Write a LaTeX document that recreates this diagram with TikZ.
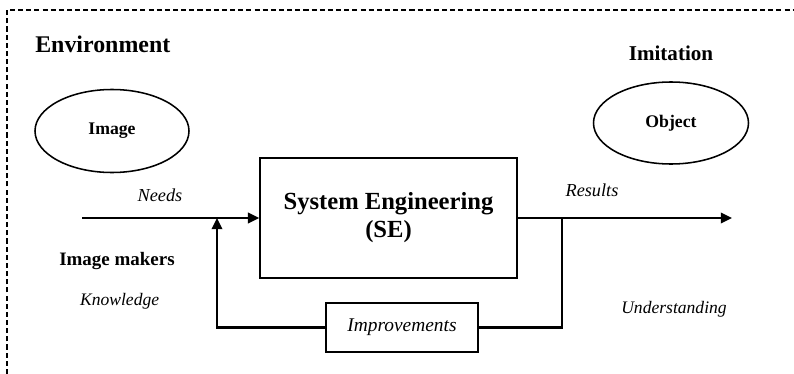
\documentclass[tikz,border=0pt]{standalone}
\usepackage{fontspec}
\setmainfont{Liberation Serif}
\usetikzlibrary{shapes.geometric,arrows.meta}

\begin{document}
\begin{tikzpicture}[
    head/.style={font=\bfseries\fontsize{17}{20}\selectfont, inner sep=0pt},
    lbl/.style={font=\itshape\fontsize{13}{15}\selectfont, inner sep=0pt},
    oval/.style={ellipse, draw, line width=1.1pt,
                 font=\bfseries\fontsize{12.6}{15}\selectfont},
    blk/.style={draw, line width=1.1pt, align=center},
    flow/.style={line width=1.5pt},
    tip/.style={flow, -{Triangle[length=8pt,width=7.5pt]}},
]
\useasboundingbox (0,0) rectangle (19.85,-9.35);

% Environment frame (dashed, runs off the page)
\draw[line width=0.9pt, dash pattern=on 3.6pt off 2.2pt]
    (0.175,-9.35) -- (0.175,-0.25) -- (19.85,-0.25);

% Headers
\node[head, anchor=west] (env) at (0.875,-1.1) {Environment};
\node[head, font=\bfseries\fontsize{15}{18}\selectfont] (imit) at (16.775,-1.325)
    {Imitation};

% Ellipses
\node[oval, minimum width=3.85cm, minimum height=2.075cm] (img)
    at (2.8,-3.275) {Image};
\node[oval, minimum width=3.875cm, minimum height=2.05cm] (obj)
    at (16.775,-3.075) {Object};

% Central system
\node[blk, minimum width=6.425cm, minimum height=3cm,
      font=\bfseries\fontsize{17.5}{20}\selectfont] (se)
    at (9.7125,-5.45) {System Engineering\\(SE)};

% Feedback block
\node[blk, minimum width=3.8cm, minimum height=1.225cm,
      font=\itshape\fontsize{13.8}{16}\selectfont] (impr)
    at (10.05,-8.1875) {Improvements};

% Free ends and junctions
\coordinate (src) at (2.05,-5.45);
\coordinate (jin) at (5.425,-5.45);
\coordinate (jout) at (14.05,-5.45);
\coordinate (dst) at (18.3,-5.45);

% Main flow
\draw[tip] (src) -- (se.west);
\draw[tip] (se.east) -- (dst);

% Feedback loop
\draw[flow] (jout) |- (impr.east);
\draw[tip] (impr.west) -| (jin);

% Labels
\node[lbl] (needs) at (4.0,-4.875) {Needs};
\node[lbl] (res) at (14.8,-4.75) {Results};
\node[head, font=\bfseries\fontsize{13.5}{16}\selectfont] (mak)
    at (2.925,-6.525) {Image makers};
\node[lbl, font=\itshape\fontsize{12.5}{15}\selectfont] (know)
    at (2.99,-7.525) {Knowledge};
\node[lbl, font=\itshape\fontsize{12.5}{15}\selectfont] (und)
    at (16.85,-7.725) {Understanding};
\end{tikzpicture}
\end{document}
